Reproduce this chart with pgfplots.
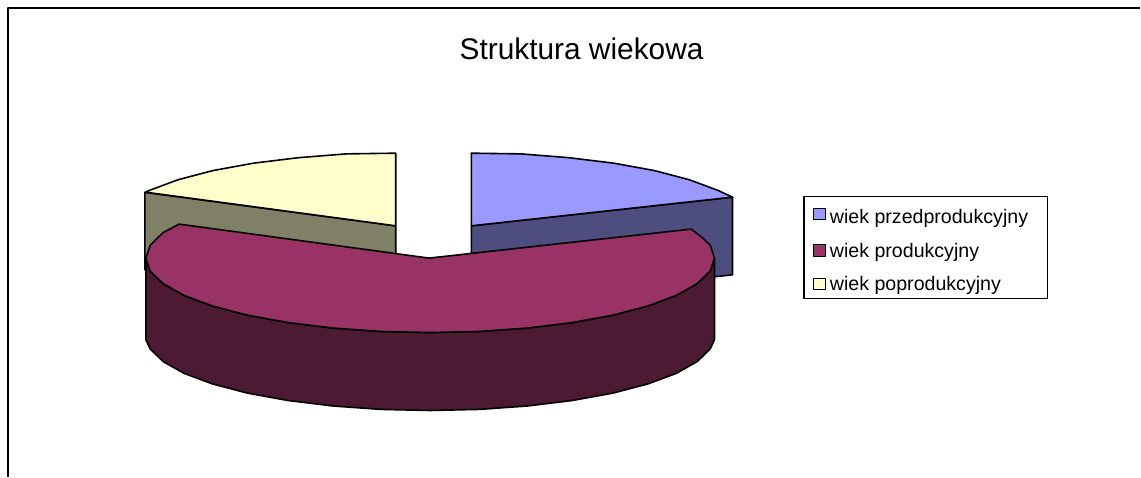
\documentclass[border=0pt]{standalone}
\usepackage{pgfplots}
\pgfplotsset{compat=1.18}
\usepackage{fontspec}
\setmainfont{Liberation Sans}
\definecolor{cblue}{HTML}{9999FF}
\definecolor{cblues}{HTML}{4D4D80}
\definecolor{cmar}{HTML}{993366}
\definecolor{cmars}{HTML}{4D1A33}
\definecolor{ccre}{HTML}{FFFFCC}
\definecolor{ccres}{HTML}{808066}
\begin{document}
\begin{tikzpicture}[x=0.75pt,y=0.75pt]
\begin{axis}[
  scale only axis, width=855.75pt, height=357.75pt,
  xmin=0, xmax=1141, ymin=0, ymax=477, y dir=reverse,
  hide axis, clip=false,
  legend style={at={(axis cs:804,196)}, anchor=north west, draw=black, line width=0.9pt,
    inner xsep=3pt, inner ysep=2.5pt, row sep=8.8pt, font=\fontsize{14.7pt}{16pt}\selectfont,
    /tikz/every even column/.append style={column sep=0pt},
    legend cell align=left},
  legend image code/.code={\draw[#1, line width=0.75pt] (4.5pt,-4pt) rectangle (13pt,4.5pt); \path[draw=none,fill=none] (0pt,0pt) -- (14.5pt,0pt);},
  every axis plot/.append style={line width=1.2pt, line join=round},
]
\addlegendimage{draw=black, fill=cblue}
\addlegendentry{\rule{0pt}{16pt}wiek przedprodukcyjny\rule{9.75pt}{0pt}}
\addlegendimage{draw=black, fill=cmar}
\addlegendentry{wiek produkcyjny}
\addlegendimage{draw=black, fill=ccre}
\addlegendentry{wiek poprodukcyjny}
% page extent
\addplot[forget plot, draw=none, fill=white] coordinates {(0,0) (1141,0) (1141,477) (0,477)} \closedcycle;
% frame
\addplot[forget plot, black, line width=1.3pt] coordinates {(8,477) (8,8) (1141,8)};
% cream slice
\addplot[forget plot, draw=black, fill=ccres] coordinates {(145,192.5) (396,226) (396,254) (396,304) (145,270)} -- cycle;
\addplot[forget plot, draw=black, fill=ccre] coordinates {(396,226) (396,153.3) (346.6,154) (298.7,157.8) (253.7,163.3) (213.1,170.7) (178.1,179.9) (149.6,190.5) (145.5,192.3)} -- cycle;
% blue slice
\addplot[forget plot, draw=black, fill=cblues] coordinates {(733,197.3) (471.7,226) (471.7,254) (471.7,304) (733,275)} -- cycle;
\addplot[forget plot, draw=black, fill=cblue] coordinates {(471.7,226) (471.7,153.3) (521.4,154) (569.3,157.8) (614.3,163.3) (654.9,170.7) (689.9,179.9) (718.4,190.5) (733,197.3)} -- cycle;
% maroon slice, side
\addplot[forget plot, draw=black, fill=cmars] coordinates {
 (715,258.3) (710.7,271.2) (697.8,283.8) (676.9,295.6) (648.4,306.2) (613.4,315.4) (572.8,322.8) (527.8,328.3) (479.9,331.7) (430.5,332.8)
 (381.1,331.7) (333.2,328.3) (288.2,322.8) (247.6,315.4) (212.6,306.2) (184.1,295.6) (163.2,283.8) (150.3,271.2) (146,258.3)
 (146,340) (150.3,349.2) (163.2,361.8) (184.1,373.6) (212.6,384.2) (247.6,393.4) (288.2,400.8) (333.2,406.3) (381.1,409.7) (430.5,410.8)
 (479.9,409.7) (527.8,406.3) (572.8,400.8) (613.4,393.4) (648.4,384.2) (676.9,373.6) (697.8,361.8) (710.7,349.2) (715,340)} -- cycle;
% maroon slice, top
\addplot[forget plot, draw=black, fill=cmar] coordinates {
 (429.3,258.3) (691.7,229.3) (703,238) (710.7,245.4) (715,258.3) (710.7,271.2) (697.8,283.8) (676.9,295.6) (648.4,306.2) (613.4,315.4) (572.8,322.8) (527.8,328.3) (479.9,331.7) (430.5,332.8)
 (381.1,331.7) (333.2,328.3) (288.2,322.8) (247.6,315.4) (212.6,306.2) (184.1,295.6) (163.2,283.8) (150.3,271.2) (146,258.3) (150.3,245.4) (163.2,232.8) (179.3,224.3)} -- cycle;
\node[font=\fontsize{22.4pt}{26pt}\selectfont, anchor=center] at (axis cs:582,49) {Struktura wiekowa};
\end{axis}
\end{tikzpicture}
\end{document}
